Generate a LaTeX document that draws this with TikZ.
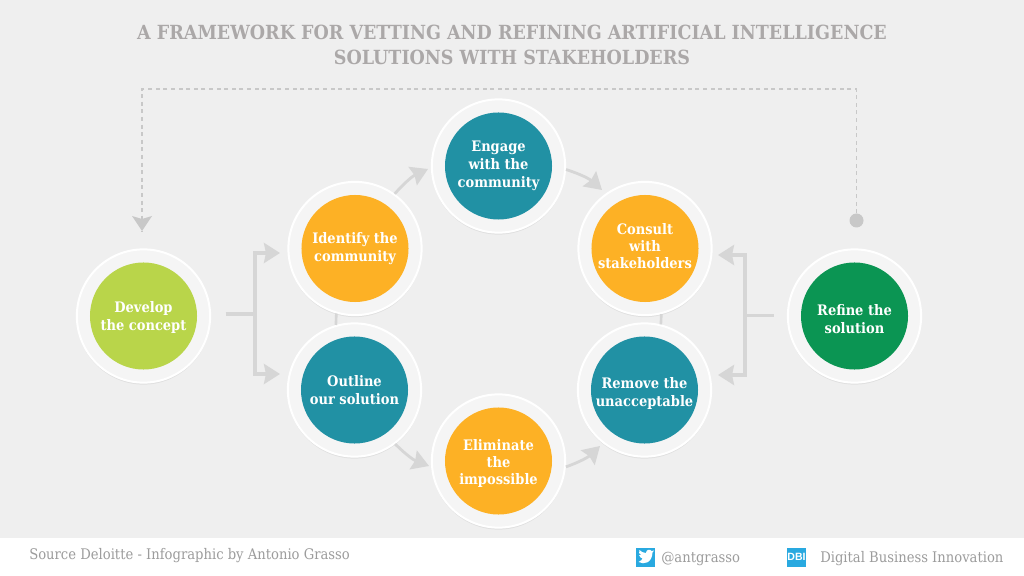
\documentclass[tikz,border=0pt]{standalone}
\usepackage{fontspec}
\setmainfont{DejaVu Serif Condensed}
\setsansfont{Liberation Sans}
\usetikzlibrary{arrows.meta, shadows}
\definecolor{backgray}{HTML}{EFEFEF}
\definecolor{ringgray}{HTML}{F5F5F5}
\definecolor{linegray}{HTML}{D6D6D6}
\definecolor{dashgray}{HTML}{C8C8C8}
\definecolor{titlegray}{HTML}{ABA8A8}
\definecolor{footgray}{HTML}{9C9C9C}
\definecolor{limedisc}{HTML}{B9D54A}
\definecolor{orangedisc}{HTML}{FDB125}
\definecolor{tealdisc}{HTML}{2191A4}
\definecolor{greendisc}{HTML}{0B9553}
\definecolor{iconblue}{HTML}{29A9E0}
\newcommand{\dropstrut}{\rule{0pt}{12.3pt}}
\newcommand{\liftstrut}{\rule[-3.9pt]{0pt}{3.9pt}}
\tikzset{
    stepring/.style={circle, minimum size=3.33cm, inner sep=0pt, outer sep=.025cm, draw=white, line width=.05cm, fill=ringgray,
        drop shadow={shadow xshift=0cm, shadow yshift=-.05cm, opacity=.06, fill=black},
        path picture={\fill[#1] (path picture bounding box.center) circle (1.3375cm);},
        align=center, text=white, font=\bfseries\fontsize{10.3}{12.8}\selectfont},
    flow/.style={draw=linegray, line width=.09cm, -{Stealth[length=.4cm, width=.5cm, inset=.05cm]}},
    stem/.style={draw=linegray, line width=.09cm},
    bendflow/.style={draw=linegray, line width=.07cm, -{Stealth[length=.42cm, width=.5cm, inset=.05cm]}},
    looppath/.style={draw=dashgray, line width=.04cm, dash pattern=on .1cm off .09cm},
    titletext/.style={text=titlegray, font=\bfseries\fontsize{13.85}{17.8}\selectfont, align=center},
    foottext/.style={text=footgray, font=\fontsize{10.4}{12}\selectfont, anchor=west, inner sep=0pt},
}
\begin{document}
\begin{tikzpicture}[x=.025cm, y=-.025cm]
    \fill[backgray] (0,576) rectangle (1024,0);
    \fill[white] (0,538) rectangle (1024,576);
    \useasboundingbox (0,576) rectangle (1024,0);

    \node[titletext] (title) at (512,45) {A FRAMEWORK FOR VETTING AND REFINING ARTIFICIAL INTELLIGENCE\\SOLUTIONS WITH STAKEHOLDERS};

    \node[stepring=limedisc] (develop) at (143.5,316) {\rule{0pt}{9.6pt}Develop\\the concept};
    \node[stepring=orangedisc] (identify) at (355,248.5) {Identify the\\community};
    \node[stepring=tealdisc] (outline) at (354.5,390) {Outline\\our solution};
    \node[stepring=tealdisc] (engage) at (498.5,166) {Engage\\with the\\community};
    \node[stepring=orangedisc] (eliminate) at (498.5,461) {\rule{0pt}{11pt}Eliminate\\[-.7pt]the\\[-.7pt]impossible};
    \node[stepring=orangedisc] (consult) at (645,248.5) {Consult\\[-.7pt]with\\[-.7pt]stakeholders\liftstrut};
    \node[stepring=tealdisc] (remove) at (644.5,390) {\dropstrut Remove the\\unacceptable};
    \node[stepring=greendisc] (refine) at (854.5,316) {\dropstrut Refine the\\solution};

    % brackets
    \coordinate (leftjoin) at (255,314);
    \coordinate (leftup) at (280,253);
    \coordinate (leftdown) at (280,374);
    \coordinate (rightjoin) at (745,315.5);
    \coordinate (rightup) at (718,255);
    \coordinate (rightdown) at (718,375);
    \draw[stem, shorten <=.36cm] (develop.east |- leftjoin) -- (leftjoin);
    \draw[flow] (leftjoin) |- (leftup);
    \draw[flow] (leftjoin) |- (leftdown);
    \draw[stem, shorten <=.33cm] (refine.west |- rightjoin) -- (rightjoin);
    \draw[flow] (rightjoin) |- (rightup);
    \draw[flow] (rightjoin) |- (rightdown);

    % short links
    \draw[stem, line width=.065cm] (identify.-106) -- (outline.106);
    \draw[stem, line width=.065cm] (consult.-76) -- (remove.76);

    % curved arrows
    \coordinate (engagein) at (428,169);
    \coordinate (consultin) at (602,190);
    \coordinate (eliminatein) at (429,466);
    \coordinate (removein) at (600,446);
    \draw[bendflow] (identify.54) to[bend left=12] (engagein);
    \draw[bendflow] (engage.-3) to[bend left=12] (consultin);
    \draw[bendflow] (outline.-53) to[bend right=12] (eliminatein);
    \draw[bendflow] (eliminate.-5) to[bend right=12] (removein);

    % feedback loop
    \node[circle, fill=dashgray, minimum size=.35cm, inner sep=0pt] (refinedot) at (856.5,220.5) {};
    \coordinate (loopright) at (856.5,89);
    \coordinate (loopleft) at (142,89);
    \coordinate (loopend) at (142,231);
    \draw[looppath] (refinedot) -- (loopright) -- (loopleft) -- (loopend);
    \fill[dashgray] (loopend) -- ++(10,-15) -- ++(-10,3) -- ++(-10,-3) -- cycle;

    % footer
    \node[foottext] (source) at (29,556) {Source Deloitte - Infographic by Antonio Grasso};
    \node[foottext] (handle) at (661,559) {@antgrasso};
    \node[foottext] (company) at (820,559) {Digital Business Innovation};
    \node[fill=iconblue, minimum size=.475cm, inner sep=0pt] (twittericon) at (645.5,557.5) {};
    \fill[white] (638.5,562) .. controls (644,565) and (652,563) .. (652.5,552.5) -- (654,550.5) -- (651.5,551) .. controls (650,548.5) and (646,549.5) .. (646,553) .. controls (643,553) and (641,551.5) .. (639.5,550) .. controls (638.5,552) and (639,554) .. (641,555) -- (639,555) .. controls (639.5,557) and (641,558) .. (642.5,558.5) .. controls (642,559.5) and (641,561) .. (638.5,562) -- cycle;
    \node[fill=iconblue, minimum size=.475cm, inner sep=0pt, text=white, font=\sffamily\bfseries\fontsize{7.5}{7.5}\selectfont] (dbiicon) at (796.5,557) {DBI};
\end{tikzpicture}
\end{document}
